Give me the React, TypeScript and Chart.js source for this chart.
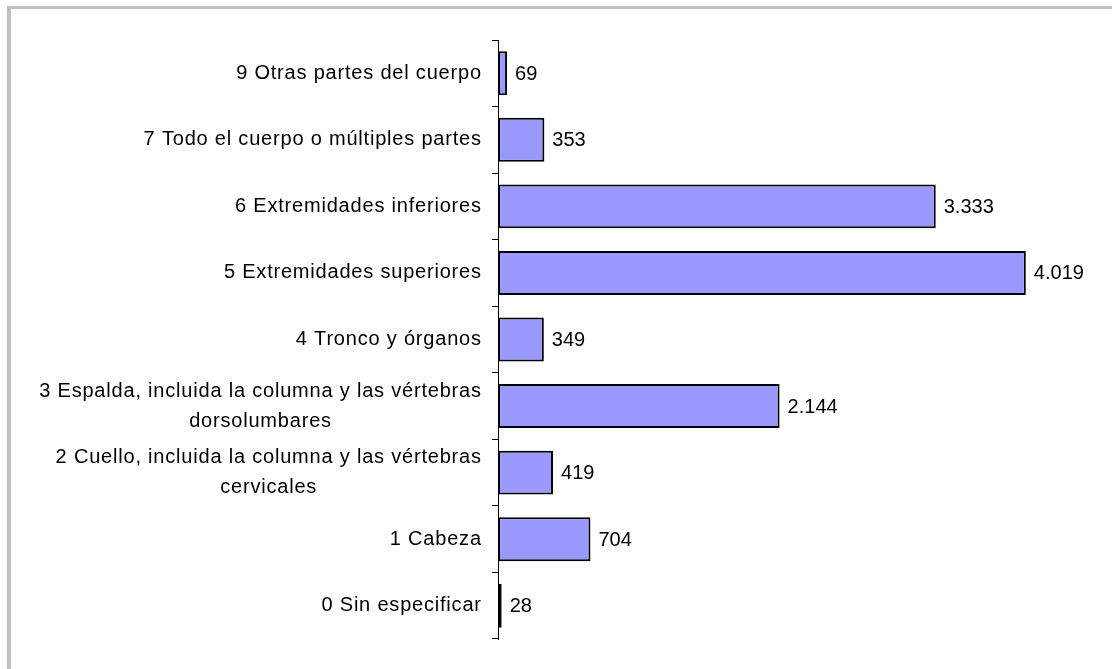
import React, { useEffect, useRef } from "react";
import { Chart, registerables } from "chart.js";

Chart.register(...registerables);

const categories: string[][] = [
  ["9 Otras partes del cuerpo"],
  ["7 Todo el cuerpo o múltiples partes"],
  ["6 Extremidades inferiores"],
  ["5 Extremidades superiores"],
  ["4 Tronco y órganos"],
  ["3 Espalda, incluida la columna y las vértebras", "dorsolumbares"],
  ["2 Cuello, incluida la columna y las vértebras", "cervicales"],
  ["1 Cabeza"],
  ["0 Sin especificar"],
];
const values: number[] = [69, 353, 3333, 4019, 349, 2144, 419, 704, 28];
const xMin = 0;
const xMax = 4500;

const FONT = '"Liberation Sans", Arial, sans-serif';

function fmt(n: number): string {
  return String(n).replace(/\B(?=(\d{3})+(?!\d))/g, ".");
}

const framePlugin = {
  id: "frame",
  beforeDraw(chart: any) {
    const ctx = chart.ctx;
    ctx.save();
    ctx.fillStyle = "#ffffff";
    ctx.fillRect(0, 0, chart.width, chart.height);
    ctx.fillStyle = "#c0c0c0";
    ctx.fillRect(7, 6, chart.width - 7, 3);
    ctx.fillRect(7, 6, 4, chart.height - 6);
    ctx.restore();
  },
};

const labelsPlugin = {
  id: "customLabels",
  afterDraw(chart: any) {
    const ctx = chart.ctx;
    const y = chart.scales.y;
    const ls = 0.8;
    ctx.save();
    ctx.font = `20px ${FONT}`;
    (ctx as any).letterSpacing = `${ls}px`;
    ctx.fillStyle = "#000000";
    ctx.textBaseline = "middle";
    ctx.textAlign = "left";
    const right = 481;
    const lh = 30;
    categories.forEach((lines, i) => {
      const cy = y.getPixelForTick(i);
      const widths = lines.map((l) => ctx.measureText(l).width - ls);
      const maxW = Math.max(...widths);
      const cx = right - maxW / 2;
      const startY = cy - ((lines.length - 1) * lh) / 2;
      lines.forEach((l, j) => {
        ctx.fillText(l, cx - widths[j] / 2, startY + j * lh);
      });
    });
    (ctx as any).letterSpacing = "0px";
    const meta = chart.getDatasetMeta(0);
    meta.data.forEach((bar: any, i: number) => {
      ctx.fillText(fmt(values[i]), bar.x + 8, bar.y + 1);
    });
    ctx.restore();
  },
};

export default function App() {
  const ref = useRef<HTMLCanvasElement>(null);
  useEffect(() => {
    if (!ref.current) return;
    const chart = new Chart(ref.current, {
      type: "bar",
      data: {
        labels: categories.map((c) => c.join(" ")),
        datasets: [
          {
            data: values,
            backgroundColor: "#9999ff",
            borderColor: "#000000",
            borderWidth: 2,
            borderSkipped: false,
            barPercentage: 0.66,
            categoryPercentage: 1,
          },
        ],
      },
      options: {
        indexAxis: "y",
        responsive: false,
        animation: false,
        devicePixelRatio: 1,
        layout: { padding: { top: 40, bottom: 30, right: 23, left: 0 } },
        plugins: { legend: { display: false }, tooltip: { enabled: false } },
        scales: {
          x: { display: false, min: xMin, max: xMax },
          y: {
            afterFit(scale: any) {
              scale.width = 498;
            },
            ticks: { display: false },
            grid: {
              drawOnChartArea: false,
              drawTicks: true,
              tickLength: 6,
              color: "#000000",
              offset: true,
            },
            border: { display: true, color: "#000000", width: 1 },
          },
        },
      },
      plugins: [framePlugin, labelsPlugin],
    } as any);
    return () => chart.destroy();
  }, []);
  return (
    <div style={{ position: "fixed", left: 0, top: 0, width: 1112, height: 669 }}>
      <canvas ref={ref} width={1112} height={669} style={{ display: "block" }} />
    </div>
  );
}
